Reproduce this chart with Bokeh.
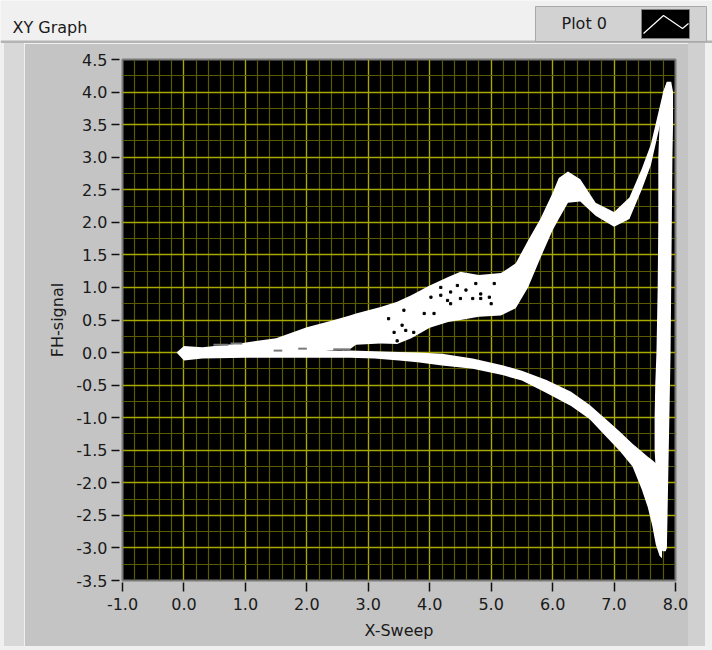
from bokeh.plotting import figure
from bokeh.models import Range1d, FixedTicker, PrintfTickFormatter, Spacer
from bokeh.layouts import column, row
from bokeh.core.properties import value
from bokeh.embed import file_html
from bokeh.resources import INLINE

# ---------------- data ----------------
# forward sweep band (upper branch): x, upper edge, lower edge
fwd_x   = [-0.12, 0.0, 0.3, 0.9, 1.5, 2.0, 2.4, 2.7, 2.8, 3.2, 3.47, 3.7, 4.0, 4.3, 4.5, 4.8, 5.16, 5.4, 5.6, 5.8, 6.0, 6.1, 6.25, 6.45, 6.7, 7.0, 7.25, 7.45, 7.6, 7.7, 7.8, 7.86]
fwd_top = [0.0, 0.1, 0.08, 0.14, 0.22, 0.39, 0.49, 0.57, 0.6, 0.7, 0.78, 0.88, 1.03, 1.16, 1.24, 1.19, 1.22, 1.37, 1.72, 2.05, 2.45, 2.68, 2.78, 2.66, 2.3, 2.16, 2.38, 2.82, 3.2, 3.6, 4.0, 4.16]
fwd_bot = [0.0, -0.02, 0.0, 0.0, 0.0, 0.0, 0.03, 0.05, 0.12, 0.14, 0.13, 0.22, 0.38, 0.47, 0.5, 0.55, 0.57, 0.68, 1.0, 1.45, 1.88, 2.05, 2.3, 2.32, 2.1, 1.93, 2.05, 2.5, 2.88, 3.3, 3.7, 3.9]

# return sweep band (lower branch)
ret_x   = [-0.12, 0.0, 0.3, 1.0, 2.0, 2.7, 3.1, 3.5, 3.8, 4.2, 4.7, 5.2, 5.5, 5.9, 6.3, 6.6, 6.9, 7.1, 7.3, 7.45, 7.55, 7.62, 7.68, 7.74, 7.78]
ret_top = [0.0, 0.0, 0.02, 0.02, 0.02, 0.03, 0.02, 0.01, 0.0, -0.02, -0.09, -0.2, -0.28, -0.42, -0.6, -0.8, -1.05, -1.22, -1.4, -1.52, -1.6, -1.65, -1.7, -1.75, -1.8]
ret_bot = [0.0, -0.12, -0.09, -0.08, -0.08, -0.08, -0.09, -0.12, -0.15, -0.2, -0.25, -0.35, -0.43, -0.62, -0.82, -1.02, -1.32, -1.52, -1.75, -2.1, -2.38, -2.65, -2.95, -3.12, -3.16]

# switching-potential vertical band: y, left edge, right edge
vert_y     = [-3.05, -3.0, -2.5, -2.0, -1.5, -1.0, -0.5, 0.0, 1.0, 2.0, 3.0, 3.5, 4.0, 4.16]
vert_left  = [7.79, 7.76, 7.72, 7.69, 7.66, 7.66, 7.67, 7.69, 7.71, 7.72, 7.72, 7.74, 7.8, 7.86]
vert_right = [7.84, 7.86, 7.87, 7.88, 7.89, 7.9, 7.91, 7.92, 7.93, 7.94, 7.95, 7.96, 7.96, 7.93]

# dark specks inside the forward band
speck_x = [4.45, 4.75, 5.05, 4.34, 4.18, 4.59, 4.83, 4.97, 4.02, 4.29, 4.5, 4.7, 5.0, 3.58, 3.91, 4.07, 3.33, 3.55, 3.61, 3.74, 3.42, 3.47, 4.18, 4.34, 4.83]
speck_y = [1.03, 1.06, 1.06, 0.93, 0.88, 0.96, 0.9, 0.85, 0.85, 0.8, 0.83, 0.83, 0.75, 0.65, 0.6, 0.6, 0.52, 0.42, 0.34, 0.31, 0.31, 0.18, 1.0, 0.75, 0.83]

# grey overlap dashes in the merged left part
dash_x0 = [0.48, 0.76, 1.46, 1.86, 2.43]
dash_x1 = [0.72, 0.95, 1.6, 2.0, 2.71]
dash_y  = [0.12, 0.14, 0.03, 0.06, 0.05]

x_ticks = [-1.0, 0.0, 1.0, 2.0, 3.0, 4.0, 5.0, 6.0, 7.0, 8.0]
y_ticks = [-3.5, -3.0, -2.5, -2.0, -1.5, -1.0, -0.5, 0.0, 0.5, 1.0, 1.5, 2.0, 2.5, 3.0, 3.5, 4.0, 4.5]
x_minor = [round(-1.0 + 0.2 * i, 2) for i in range(46)]
y_minor = [round(-3.5 + 0.25 * i, 2) for i in range(33)]

FONT = "DejaVu Sans"
PANEL = "#c4c4c4"
LIGHT = "#f0f0f0"

# ---------------- main graph ----------------
p = figure(width=664, height=603, x_range=Range1d(-1, 8), y_range=Range1d(-3.5, 4.5),
           toolbar_location=None, output_backend="svg",
           min_border_left=98, min_border_right=13, min_border_top=16, min_border_bottom=66,
           background_fill_color="black", border_fill_color=PANEL,
           outline_line_color="#7a7a7a", outline_line_width=2)

p.xaxis.ticker = FixedTicker(ticks=x_ticks)
p.yaxis.ticker = FixedTicker(ticks=y_ticks)
p.xgrid.ticker = FixedTicker(ticks=x_ticks, minor_ticks=x_minor)
p.ygrid.ticker = FixedTicker(ticks=y_ticks, minor_ticks=y_minor)
for g in (p.xgrid, p.ygrid):
    g.grid_line_color = "#a8a800"
    g.grid_line_width = 1.3
    g.minor_grid_line_color = "#5a5a00"
    g.minor_grid_line_width = 1.2

p.xaxis.formatter = PrintfTickFormatter(format="%.1f")
p.yaxis.formatter = PrintfTickFormatter(format="%.1f")
for ax in (p.xaxis, p.yaxis):
    ax.axis_line_color = None
    ax.minor_tick_line_color = None
    ax.major_tick_line_color = "#101010"
    ax.major_tick_line_width = 1.5
    ax.major_label_text_font = FONT
    ax.major_label_text_font_size = "16px"
    ax.major_label_text_color = "#1a1a1a"
    ax.axis_label_text_font = FONT
    ax.axis_label_text_font_size = "16px"
    ax.axis_label_text_font_style = "normal"
    ax.axis_label_text_color = "#1a1a1a"
p.xaxis.major_tick_in = -2
p.xaxis.major_tick_out = 11
p.yaxis.major_tick_in = -3
p.yaxis.major_tick_out = 11
p.xaxis.major_label_standoff = 6
p.yaxis.major_label_standoff = 4
p.xaxis.axis_label = "X-Sweep"
p.yaxis.axis_label = "FH-signal"
p.xaxis.axis_label_standoff = 8
p.yaxis.axis_label_standoff = 6

p.varea(x=fwd_x, y1=fwd_bot, y2=fwd_top, fill_color="white")
p.varea(x=ret_x, y1=ret_bot, y2=ret_top, fill_color="white")
p.harea(y=vert_y, x1=vert_left, x2=vert_right, fill_color="white")
p.segment(x0=dash_x0, y0=dash_y, x1=dash_x1, y1=dash_y, line_color="#7a7a7a", line_width=2)
p.scatter(x=speck_x, y=speck_y, marker="square", size=2.2, color="black")

# ---------------- title bar with legend ----------------
top = figure(width=712, height=43, x_range=Range1d(0, 712), y_range=Range1d(43, 0),
             toolbar_location=None, output_backend="svg", min_border=0,
             background_fill_color=LIGHT, border_fill_color=LIGHT, outline_line_color=None)
top.axis.visible = False
top.grid.visible = False
top.quad(left=[0], right=[712], top=[40], bottom=[43], fill_color="#b4b4b4", line_color=None)
top.quad(left=[535], right=[706], top=[6], bottom=[41], fill_color="#d2d2d2",
         line_color="#a8a8a8", line_width=1)
top.quad(left=[641], right=[689], top=[9], bottom=[38], fill_color="black", line_color="#808080")
top.line(x=[643, 663, 682, 688], y=[33, 15, 28, 23], line_color="white", line_width=1.2)
top.text(x=[12], y=[27], text=["XY Graph"], text_font=value(FONT), text_font_size=value("16px"),
         text_baseline="middle", text_color="#1a1a1a")
top.text(x=[561], y=[23], text=["Plot 0"], text_font=value(FONT), text_font_size=value("16px"),
         text_baseline="middle", text_color="#1a1a1a")

def strip(w, h, c):
    return Spacer(width=w, height=h, styles={"background-color": c})

body = row(strip(4, 603, LIGHT), strip(20, 603, "#d8d8d8"), p, strip(17, 603, "#d0d0d0"), strip(7, 603, LIGHT))
layout = column(top, body, strip(712, 4, LIGHT))

open("out.html", "w").write(file_html(layout, INLINE))
